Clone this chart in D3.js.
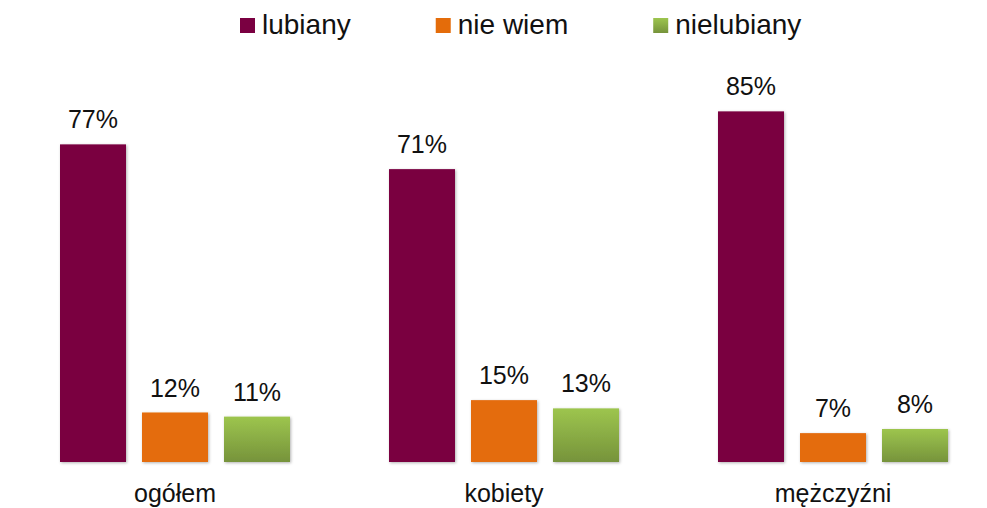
<!DOCTYPE html>
<html>
<head>
<meta charset="utf-8">
<script src="https://cdn.jsdelivr.net/npm/d3@7"></script>
<style>
  body { margin: 0; background: #fff; }
  svg { display: block; font-family: "Liberation Sans", Arial, sans-serif; }
</style>
</head>
<body>
<svg id="chart" width="987" height="508"></svg>
<script>
const categories = ['ogółem', 'kobiety', 'mężczyźni'];
const seriesNames = ['lubiany', 'nie wiem', 'nielubiany'];
const lubiany = [77, 71, 85];
const nieWiem = [12, 15, 7];
const nielubiany = [11, 13, 8];

const seriesValues = [lubiany, nieWiem, nielubiany];
const fills = ['#7a0041', '#e46c0a', 'url(#greenGrad)'];

const svg = d3.select('#chart');

/// defs: green gradient + soft shadow
const defs = svg.append('defs');
const grad = defs.append('linearGradient')
  .attr('id', 'greenGrad')
  .attr('x1', 0).attr('y1', 0).attr('x2', 0).attr('y2', 1);
grad.append('stop').attr('offset', '0%').attr('stop-color', '#9dc54e');
grad.append('stop').attr('offset', '100%').attr('stop-color', '#76933b');

const shadow = defs.append('filter')
  .attr('id', 'shadow')
  .attr('x', '-20%').attr('y', '-20%').attr('width', '140%').attr('height', '140%');
shadow.append('feDropShadow')
  .attr('dx', 1).attr('dy', 1).attr('stdDeviation', 1.5)
  .attr('flood-color', '#000').attr('flood-opacity', 0.3);

/// scales
const x0 = d3.scaleBand()
  .domain(categories)
  .range([10.5, 997.5])
  .paddingInner(83 / 329)
  .paddingOuter(41.5 / 329);

const x1 = d3.scaleBand()
  .domain(seriesNames)
  .range([0, x0.bandwidth()])
  .paddingInner(16 / 82)
  .paddingOuter(8 / 82);

const y = d3.scaleLinear().domain([0, 100]).range([462, 49.5]);

/// rows of data: one group per category
const rows = categories.map((c, i) => ({
  cat: c,
  vals: seriesNames.map((s, k) => ({ name: s, value: seriesValues[k][i], k }))
}));

const groups = svg.selectAll('g.group')
  .data(rows)
  .enter().append('g')
  .attr('class', 'group')
  .attr('transform', d => `translate(${x0(d.cat)},0)`);

groups.selectAll('rect')
  .data(d => d.vals)
  .enter().append('rect')
  .attr('x', d => x1(d.name))
  .attr('y', d => y(d.value))
  .attr('width', x1.bandwidth())
  .attr('height', d => y(0) - y(d.value))
  .attr('fill', d => fills[d.k])
  .attr('filter', 'url(#shadow)');

groups.selectAll('text.val')
  .data(d => d.vals)
  .enter().append('text')
  .attr('class', 'val')
  .attr('x', d => x1(d.name) + x1.bandwidth() / 2)
  .attr('y', d => y(d.value) - 16)
  .attr('text-anchor', 'middle')
  .attr('font-size', 25)
  .attr('fill', '#111')
  .text(d => d.value + '%');

/// baseline axis
svg.append('line')
  .attr('x1', 5).attr('x2', 987)
  .attr('y1', y(0) + 0.5).attr('y2', y(0) + 0.5)
  .attr('stroke', '#a6a6a6')
  .attr('stroke-width', 1.5)
  .attr('filter', 'url(#shadow)');

/// category labels via axis
const xAxis = svg.append('g')
  .attr('transform', `translate(0,${y(0)})`)
  .call(d3.axisBottom(x0).tickSize(0).tickPadding(0));
xAxis.select('.domain').remove();
xAxis.selectAll('text')
  .attr('font-size', 25)
  .attr('font-family', '"Liberation Sans", Arial, sans-serif')
  .attr('fill', '#111')
  .attr('dy', null)
  .attr('y', 40);

/// legend
const legend = svg.append('g').attr('class', 'legend');
let lx = 240;
seriesNames.forEach((s, k) => {
  const item = legend.append('g').attr('transform', `translate(${lx},0)`);
  item.append('rect')
    .attr('x', 0).attr('y', 18)
    .attr('width', 15).attr('height', 15)
    .attr('fill', fills[k]);
  const t = item.append('text')
    .attr('x', 22).attr('y', 34)
    .attr('font-size', 28)
    .attr('fill', '#111')
    .text(s);
  lx += 22 + t.node().getComputedTextLength() + 85;
});
</script>
</body>
</html>
